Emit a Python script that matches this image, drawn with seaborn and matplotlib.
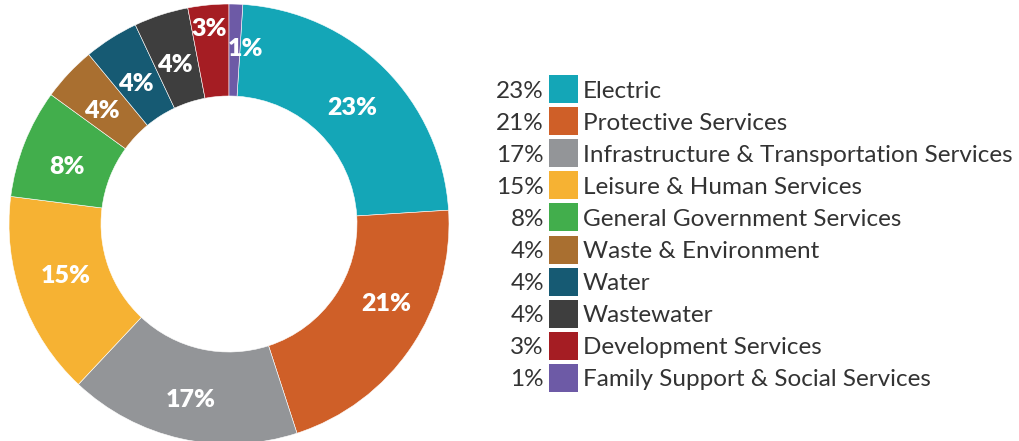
import matplotlib
matplotlib.use("Agg")
import matplotlib.pyplot as plt
from matplotlib.patches import Rectangle
import numpy as np
import seaborn as sns

# Share of spending by service area (percent)
categories = [
    "Electric",
    "Protective Services",
    "Infrastructure & Transportation Services",
    "Leisure & Human Services",
    "General Government Services",
    "Waste & Environment",
    "Water",
    "Wastewater",
    "Development Services",
    "Family Support & Social Services",
]
shares = [23, 21, 17, 15, 8, 4, 4, 4, 3, 1]
colors = [
    "#14A6B7", "#CF5F28", "#939598", "#F6B233", "#42AE4C",
    "#A96F30", "#165A73", "#3E3E3E", "#A51D23", "#6D5AA6",
]

sns.set_theme(style="white")
plt.rcParams["font.family"] = ["Lato", "DejaVu Sans"]
palette = sns.color_palette(colors)

W, H, DPI = 1019, 441, 100
fig = plt.figure(figsize=(W / DPI, H / DPI), dpi=DPI)

# Donut axes: centre at (229, 224) px, outer radius 220 px
cx, cy, r = 229, 224, 220
ax = fig.add_axes([(cx - r) / W, (H - cy - r) / H, 2 * r / W, 2 * r / H])

total = sum(shares)
start = 90 - 360 * shares[-1] / total  # smallest slice sits just right of 12 o'clock
inner = 128 / 220
wedges, _ = ax.pie(
    shares,
    colors=palette,
    startangle=start,
    counterclock=False,
    radius=1,
    wedgeprops=dict(width=1 - inner, edgecolor="white", linewidth=0.4),
)
ax.set_xlim(-1, 1)
ax.set_ylim(-1, 1)
ax.set_aspect("equal")
ax.axis("off")

# label placement overrides (angle in degrees, radius) for some slices
label_spot = {
    "Protective Services": (-24.9, 0.79),
    "Leisure & Human Services": (-164.5, 0.77),
    "Development Services": (95.5, 0.92),
    "Family Support & Social Services": (84.7, 0.83),
}
mid_r = (1 + inner) / 2
for name, w, v in zip(categories, wedges, shares):
    a, rr = label_spot.get(name, ((w.theta1 + w.theta2) / 2, mid_r))
    ang = np.deg2rad(a)
    ax.text(rr * np.cos(ang), rr * np.sin(ang) - 0.03, f"{v}%",
            ha="center", va="center", color="white",
            fontsize=18, fontweight="heavy")

# Legend: percent, colour swatch, category name
lax = fig.add_axes([0, 0, 1, 1])
lax.set_xlim(0, W)
lax.set_ylim(H, 0)
lax.axis("off")
y0, dy = 89, 32.1
sw, sh = 29, 28
for i, (name, v, c) in enumerate(zip(categories, shares, palette)):
    y = y0 + i * dy
    lax.add_patch(Rectangle((549, y - sh / 2), sw, sh, facecolor=c, edgecolor="none"))
    lax.text(544, y, f"{v}%", ha="right", va="center_baseline",
             fontsize=17.5, color="#333333")
    lax.text(583, y, name, ha="left", va="center_baseline",
             fontsize=17.5, color="#333333")

fig.savefig("out.png", dpi=DPI)
